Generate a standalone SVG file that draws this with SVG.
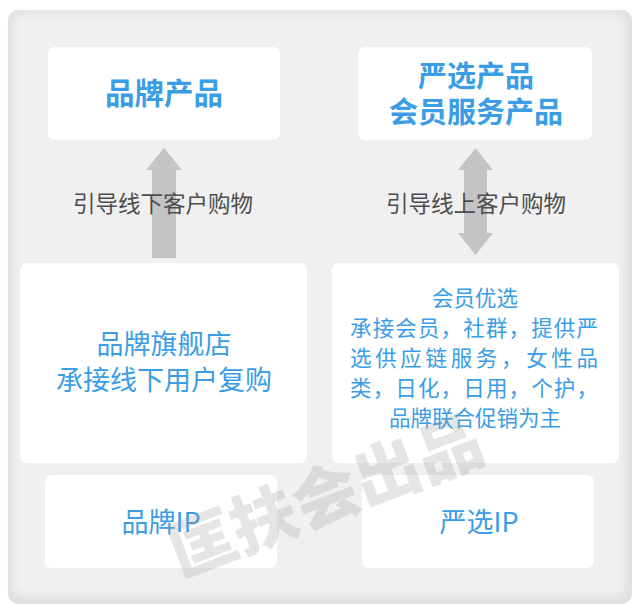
<svg xmlns="http://www.w3.org/2000/svg" width="640" height="614" viewBox="0 0 640 614">
<defs>
<filter id="soft" x="-5%" y="-5%" width="110%" height="110%"><feGaussianBlur stdDeviation="4"/></filter>
<style>
.box{fill:#ffffff}
.t{font-family:"Noto Sans CJK SC","Noto Sans",sans-serif;fill:#3a9de6;text-anchor:middle}
.b{font-weight:bold;font-size:29.5px}
.b2{font-weight:bold;font-size:29px}
.m{font-size:27px}
.s{font-size:21.5px}
.lbl{font-family:"Noto Sans CJK SC","Noto Sans",sans-serif;fill:#4d4d4d;font-size:22.5px;text-anchor:middle}
.arr{fill:#c4c4c4}
.wm{font-family:"Noto Sans CJK SC",sans-serif;font-weight:900;font-size:66px;fill:#9a9a9a;fill-opacity:0.26;text-anchor:middle}
</style>
</defs>
<rect x="0" y="0" width="640" height="614" fill="#ffffff"/>
<rect x="8" y="10" width="624" height="594" rx="10" fill="#e0e0e0"/>
<rect x="13" y="14" width="612" height="582" rx="8" fill="#f0f0f0" filter="url(#soft)"/>
<g id="connectors">
<g id="arrow-left">
<rect class="arr" x="152" y="169" width="24" height="89"/>
<polygon class="arr" points="164,148 182,170 146,170"/>
</g>
<g id="arrow-right">
<rect class="arr" x="464" y="169" width="23" height="65"/>
<polygon class="arr" points="475.5,148 493,170 458,170"/>
<polygon class="arr" points="458,233 493,233 475.5,255"/>
</g>
<text class="lbl" x="163" y="212">引导线下客户购物</text>
<text class="lbl" x="476" y="212">引导线上客户购物</text>
</g>
<g id="brand-product">
<rect class="box" x="48" y="47" width="232" height="93" rx="7"/>
<text class="t b" x="164" y="104">品牌产品</text>
</g>
<g id="yanxuan-product">
<rect class="box" x="358" y="47" width="234" height="93" rx="7"/>
<text class="t b2"><tspan x="476" y="87">严选产品</tspan><tspan x="476" y="123">会员服务产品</tspan></text>
</g>
<g id="flagship">
<rect class="box" x="20" y="263" width="287" height="200" rx="7"/>
<text class="t m"><tspan x="164" y="354">品牌旗舰店</tspan><tspan x="164" y="390">承接线下用户复购</tspan></text>
</g>
<g id="member">
<rect class="box" x="332" y="263" width="287" height="200" rx="7"/>
<text class="t s" x="475" y="306">会员优选</text>
<text class="t s" x="474" y="336" textLength="248" lengthAdjust="spacing">承接会员，社群，提供严</text>
<text class="t s" x="474" y="366" textLength="248" lengthAdjust="spacing">选供应链服务，女性品</text>
<text class="t s" x="474" y="396" textLength="248" lengthAdjust="spacing">类，日化，日用，个护，</text>
<text class="t s" x="475" y="426">品牌联合促销为主</text>
</g>
<g id="brand-ip">
<rect class="box" x="45" y="475" width="232" height="93" rx="7"/>
<text class="t m" x="161" y="532">品牌IP</text>
</g>
<g id="yanxuan-ip">
<rect class="box" x="362" y="475" width="232" height="93" rx="7"/>
<text class="t m" x="479" y="532">严选IP</text>
</g>
<text class="wm" x="326" y="520" transform="rotate(-21 326 497)">匡扶会出品</text>
</svg>
